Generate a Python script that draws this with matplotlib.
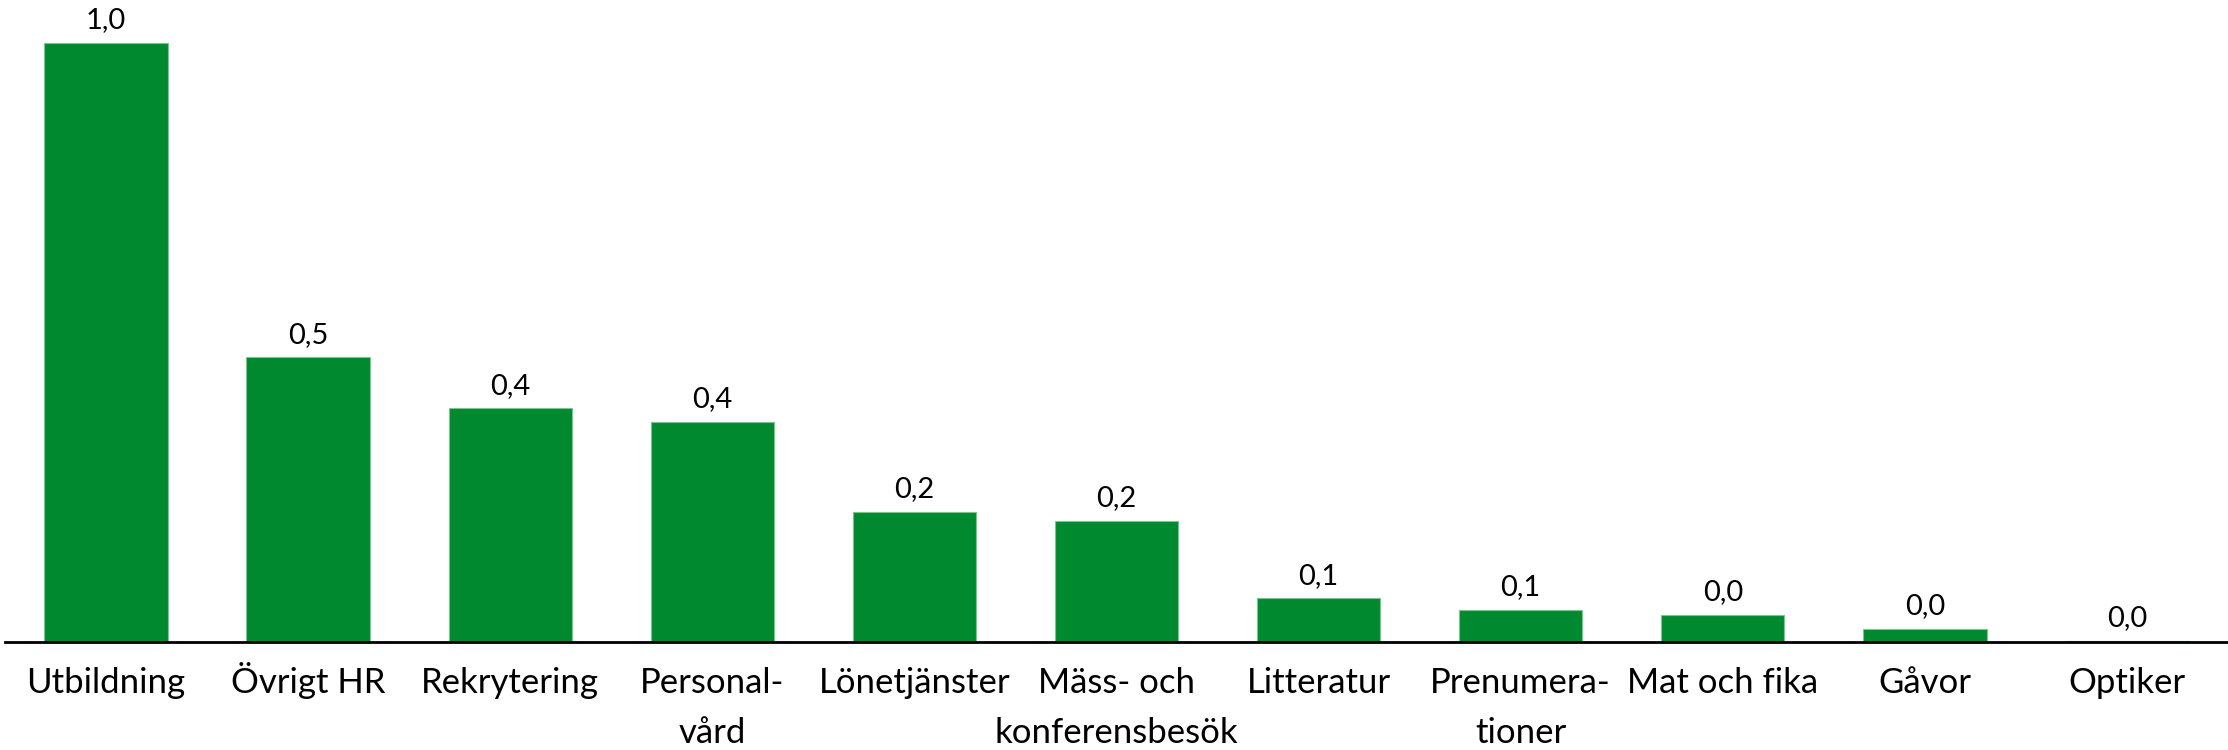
import matplotlib
matplotlib.use("Agg")
import matplotlib.pyplot as plt

categories = ["Utbildning", "Övrigt HR", "Rekrytering", "Personal-\nvård", "Lönetjänster",
              "Mäss- och\nkonferensbesök", "Litteratur", "Prenumera-\ntioner", "Mat och fika",
              "Gåvor", "Optiker"]
values = [1.0, 0.475, 0.390, 0.368, 0.217, 0.202, 0.073, 0.054, 0.045, 0.022, 0.002]
value_labels = ["1,0", "0,5", "0,4", "0,4", "0,2", "0,2", "0,1", "0,1", "0,0", "0,0", "0,0"]

bar_color = "#00892F"

fig = plt.figure(figsize=(22.28, 7.5), dpi=100)
ax = fig.add_axes([5 / 2228, 108 / 750, 1 - 5 / 2228, 642 / 750])

x = list(range(len(categories)))
ax.bar(x, values, width=0.61, color=bar_color, edgecolor="#7cc48f", linewidth=0.8, zorder=2)

ax.set_xlim(-0.5, len(categories) - 0.5)
ax.set_ylim(0, 1.0 * 642 / 599)

for xi, v, lab in zip(x, values, value_labels):
    ax.annotate(lab, (xi, v), xytext=(0, 10.5), textcoords="offset points",
                ha="center", va="baseline", fontsize=21, family="Lato", color="black")

# category labels: each line aligned on its own baseline
first_offset = -36.7   # points below axis line
line_step = 36.0       # points between baselines
for xi, cat in zip(x, categories):
    for i, line in enumerate(cat.split("\n")):
        ax.annotate(line, (xi, 0), xycoords=("data", "axes fraction"),
                    xytext=(0, first_offset - i * line_step), textcoords="offset points",
                    ha="center", va="baseline", fontsize=25, family="Lato",
                    color="black", annotation_clip=False)

ax.set_xticks([])
ax.set_yticks([])

for s in ["top", "left", "right"]:
    ax.spines[s].set_visible(False)
ax.spines["bottom"].set_linewidth(2)
ax.spines["bottom"].set_color("black")
ax.spines["bottom"].set_zorder(3)

fig.savefig("out.png", dpi=100)
